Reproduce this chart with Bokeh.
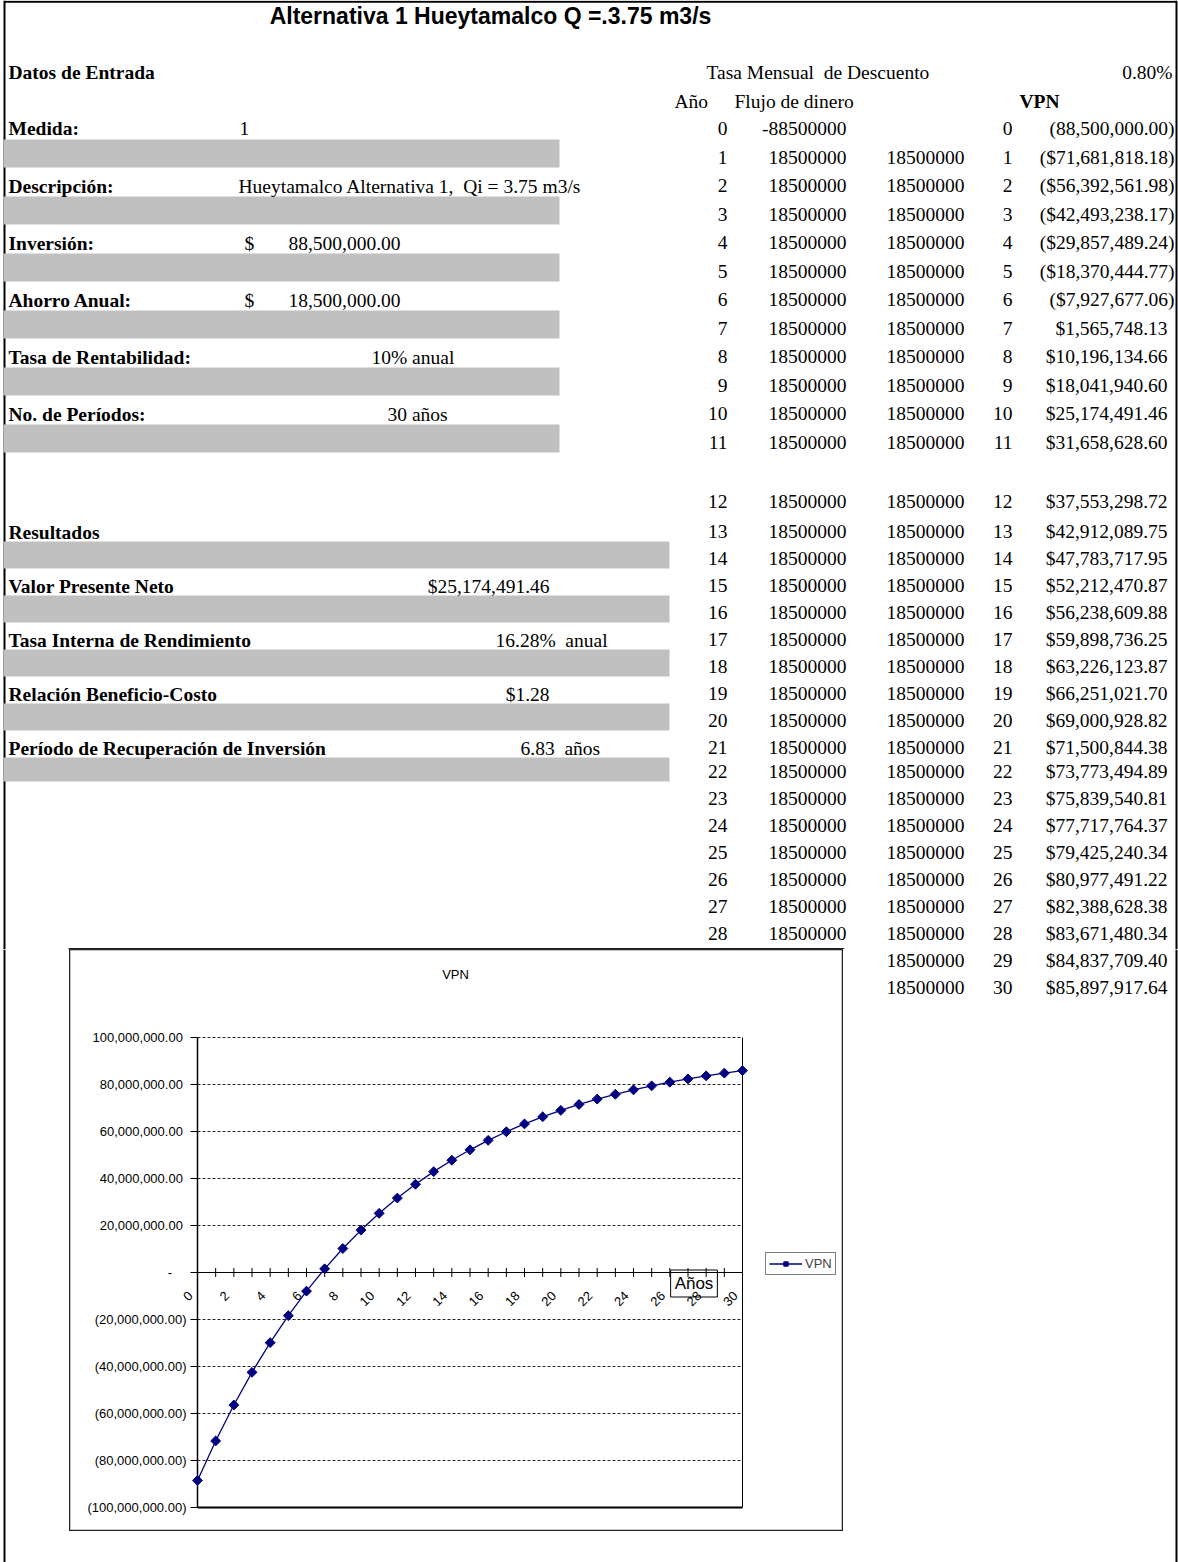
import numpy as np
from bokeh.plotting import figure
from bokeh.models import (Range1d, Label, LabelSet, Legend, LegendItem, ColumnDataSource)
from bokeh.layouts import column, row
from bokeh.core.properties import value
from bokeh.embed import file_html
from bokeh.resources import INLINE

# ---------------- data ----------------
title_text = "Alternativa 1 Hueytamalco Q =.3.75 m3/s"
medida = 1
descripcion = "Hueytamalco Alternativa 1,\u00a0 Qi = 3.75 m3/s"
inversion = 88500000.00
ahorro_anual = 18500000.00
tasa_rentabilidad = 10
periodos = 30
tasa_mensual = 0.80
vpn_total = 25174491.46
tir = 16.28
beneficio_costo = 1.28
recuperacion = 6.83

years = [0, 1, 2, 3, 4, 5, 6, 7, 8, 9, 10, 11, 12, 13, 14, 15, 16, 17, 18, 19, 20,
         21, 22, 23, 24, 25, 26, 27, 28, 29, 30]
flujo = [-88500000, 18500000, 18500000, 18500000, 18500000, 18500000, 18500000,
         18500000, 18500000, 18500000, 18500000, 18500000, 18500000, 18500000,
         18500000, 18500000, 18500000, 18500000, 18500000, 18500000, 18500000,
         18500000, 18500000, 18500000, 18500000, 18500000, 18500000, 18500000,
         18500000, 18500000, 18500000]
flujo_b = [None, 18500000, 18500000, 18500000, 18500000, 18500000, 18500000,
           18500000, 18500000, 18500000, 18500000, 18500000, 18500000, 18500000,
           18500000, 18500000, 18500000, 18500000, 18500000, 18500000, 18500000,
           18500000, 18500000, 18500000, 18500000, 18500000, 18500000, 18500000,
           18500000, 18500000, 18500000]
vpn = [-88500000.00, -71681818.18, -56392561.98, -42493238.17, -29857489.24,
       -18370444.77, -7927677.06, 1565748.13, 10196134.66, 18041940.60,
       25174491.46, 31658628.60, 37553298.72, 42912089.75, 47783717.95,
       52212470.87, 56238609.88, 59898736.25, 63226123.87, 66251021.70,
       69000928.82, 71500844.38, 73773494.89, 75839540.81, 77717764.37,
       79425240.34, 80977491.22, 82388628.38, 83671480.34, 84837709.40,
       85897917.64]

y_ticks = [-100000000, -80000000, -60000000, -40000000, -20000000, 0,
           20000000, 40000000, 60000000, 80000000, 100000000]
y_tick_labels = ["(100,000,000.00)", "(80,000,000.00)", "(60,000,000.00)",
                 "(40,000,000.00)", "(20,000,000.00)", "-", "20,000,000.00",
                 "40,000,000.00", "60,000,000.00", "80,000,000.00", "100,000,000.00"]
x_tick_years = [0, 2, 4, 6, 8, 10, 12, 14, 16, 18, 20, 22, 24, 26, 28, 30]

# ---------------- helpers ----------------
SERIF = "Liberation Serif"
SANS = "Liberation Sans"
FS = "19.5px"
NAVY = "#000080"
PAGE_W, PAGE_H = 1178, 1562


def sheet(w, h, x0, x1, y0, y1):
    f = figure(width=w, height=h, x_range=Range1d(x0, x1), y_range=Range1d(y1, y0),
               x_axis_location=None, y_axis_location=None, toolbar_location=None,
               tools="", output_backend="svg", title=None, min_border=0)
    f.grid.visible = False
    f.outline_line_color = None
    f.background_fill_color = "white"
    f.border_fill_color = "white"
    return f


def put(f, xs, ys, texts, align="left", bold=False, font=SERIF, size=FS):
    f.text(x=xs, y=ys, text=texts, text_align=align, text_baseline="middle",
           text_font=value(font), text_font_size=value(size),
           text_font_style="bold" if bold else "normal", text_color="black")


def row_y(i):
    if i <= 11:
        return 128 + 28.5 * i
    if i == 12:
        return 501
    if i <= 21:
        return 531 + 27 * (i - 13)
    return 771 + 27 * (i - 22)


def vpn_text(i, v):
    s = f"{abs(v):,.2f}"
    if i == 0:
        return f"({s})"
    return f"(${s})" if v < 0 else f"${s}"


# chart box / plot area placement on the page (pixels)
BOX_L, BOX_R, BOX_T, BOX_B = 69, 843, 949, 1531
PA_L, PA_R, PA_T, PA_B = 197, 742, 1037, 1507

# ---------------- top sheet ----------------
T = sheet(PAGE_W, BOX_T, 0, PAGE_W, 0, BOX_T)
T.segment(x0=[4, 4, 1176], y0=[1.2, 0, 0], x1=[1176, 4, 1176], y1=[1.2, BOX_T, BOX_T],
          line_color="black", line_width=2)
bars_l = [(139, 167), (196, 224), (253, 281), (310, 338), (367, 395), (424, 452)]
bars_r = [(541, 568), (595, 622), (649, 676), (703, 730), (757, 781)]
T.quad(left=[3] * len(bars_l), right=[559] * len(bars_l),
       top=[a for a, b in bars_l], bottom=[b for a, b in bars_l],
       fill_color="#C0C0C0", line_color=None)
T.quad(left=[3] * len(bars_r), right=[669] * len(bars_r),
       top=[a for a, b in bars_r], bottom=[b for a, b in bars_r],
       fill_color="#C0C0C0", line_color=None)
T.segment(x0=[BOX_L - 1], y0=[BOX_T - 0.7], x1=[BOX_R + 0.7], y1=[BOX_T - 0.7],
          line_color="#222222", line_width=1.5)

put(T, [490], [15], [title_text], align="center", bold=True, font=SANS, size="23px")

labels = [("Datos de Entrada", 72), ("Medida:", 128), ("Descripción:", 186),
          ("Inversión:", 243), ("Ahorro Anual:", 300), ("Tasa de Rentabilidad:", 357),
          ("No. de Períodos:", 414), ("Resultados", 532), ("Valor Presente Neto", 586),
          ("Tasa Interna de Rendimiento", 640), ("Relación Beneficio-Costo", 694),
          ("Período de Recuperación de Inversión", 748)]
put(T, [8] * len(labels), [y for _, y in labels], [t for t, _ in labels], bold=True)

left_vals = [(str(medida), 239, 128), (descripcion, 238, 186), ("$", 244, 243),
             ("$", 244, 300), (f"{tasa_rentabilidad}% anual", 371, 357),
             (f"{periodos} años", 387, 414), (f"{tir:.2f}%\u00a0 anual", 495, 640),
             (f"{recuperacion:.2f}\u00a0 años", 520, 748),
             ("Tasa Mensual\u00a0 de Descuento", 706, 72), ("Año", 674, 101),
             ("Flujo de dinero", 734, 101)]
put(T, [x for _, x, _ in left_vals], [y for _, _, y in left_vals], [t for t, _, _ in left_vals])
right_vals = [(f"{inversion:,.2f}", 400, 243), (f"{ahorro_anual:,.2f}", 400, 300),
              (f"${vpn_total:,.2f}", 549, 586), (f"${beneficio_costo:.2f}", 549, 694),
              (f"{tasa_mensual:.2f}%", 1172, 72)]
put(T, [x for _, x, _ in right_vals], [y for _, _, y in right_vals],
    [t for t, _, _ in right_vals], align="right")
put(T, [1039], [101], ["VPN"], align="center", bold=True)

rows_top = [i for i in years if i <= 28]
put(T, [727] * len(rows_top), [row_y(i) for i in rows_top], [str(i) for i in rows_top], align="right")
put(T, [846] * len(rows_top), [row_y(i) for i in rows_top], [str(flujo[i]) for i in rows_top], align="right")
r2 = [i for i in rows_top if flujo_b[i] is not None]
put(T, [964] * len(r2), [row_y(i) for i in r2], [str(flujo_b[i]) for i in r2], align="right")
put(T, [1012] * len(rows_top), [row_y(i) for i in rows_top], [str(i) for i in rows_top], align="right")
neg = [i for i in rows_top if vpn[i] < 0]
pos = [i for i in rows_top if vpn[i] >= 0]
put(T, [1174] * len(neg), [row_y(i) for i in neg], [vpn_text(i, vpn[i]) for i in neg], align="right")
put(T, [1167] * len(pos), [row_y(i) for i in pos], [vpn_text(i, vpn[i]) for i in pos], align="right")

# ---------------- bottom strips ----------------
BOT_H = PAGE_H - BOX_T
L = sheet(BOX_L, BOT_H, 0, BOX_L, BOX_T, PAGE_H)
L.segment(x0=[4], y0=[BOX_T], x1=[4], y1=[PAGE_H], line_color="black", line_width=2)

R = sheet(PAGE_W - BOX_R, BOT_H, BOX_R, PAGE_W, BOX_T, PAGE_H)
R.segment(x0=[1176], y0=[BOX_T], x1=[1176], y1=[PAGE_H], line_color="black", line_width=2)
rows_bot = [i for i in years if i > 28]
put(R, [964] * len(rows_bot), [row_y(i) for i in rows_bot], [str(flujo_b[i]) for i in rows_bot], align="right")
put(R, [1012] * len(rows_bot), [row_y(i) for i in rows_bot], [str(i) for i in rows_bot], align="right")
put(R, [1167] * len(rows_bot), [row_y(i) for i in rows_bot], [vpn_text(i, vpn[i]) for i in rows_bot], align="right")

B = sheet(BOX_R - BOX_L, PAGE_H - BOX_B, BOX_L, BOX_R, BOX_B, PAGE_H)

# ---------------- chart (frame = chart box) ----------------
x_per_px = (years[-1] - years[0]) / (PA_R - PA_L)
y_per_px = (y_ticks[-1] - y_ticks[0]) / (PA_B - PA_T)
x_lo = years[0] - (PA_L - BOX_L) * x_per_px
x_hi = years[-1] + (BOX_R - PA_R) * x_per_px
y_hi = y_ticks[-1] + (PA_T - BOX_T) * y_per_px
y_lo = y_ticks[0] - (BOX_B - PA_B) * y_per_px

C = figure(width=BOX_R - BOX_L, height=BOX_B - BOX_T, x_range=Range1d(x_lo, x_hi),
           y_range=Range1d(y_lo, y_hi), x_axis_location=None, y_axis_location=None,
           toolbar_location=None, tools="", output_backend="svg", title=None,
           min_border=0)
C.grid.visible = False
C.background_fill_color = "white"
C.border_fill_color = "white"
C.outline_line_color = "#222222"
C.outline_line_width = 1.5

x0, x1 = years[0], years[-1]
grid_vals = [t for t in y_ticks if t not in (0, y_ticks[0])]
C.segment(x0=[x0] * len(grid_vals), y0=grid_vals, x1=[x1] * len(grid_vals), y1=grid_vals,
          line_color="black", line_dash="3 2", line_width=1, line_alpha=0.85)
# plot-area edges
C.segment(x0=[x1], y0=[y_ticks[0]], x1=[x1], y1=[y_ticks[-1]], line_color="black", line_width=1)
C.segment(x0=[x0], y0=[y_ticks[0]], x1=[x1], y1=[y_ticks[0]], line_color="black", line_width=2)
# y axis
C.segment(x0=[x0], y0=[y_ticks[0]], x1=[x0], y1=[y_ticks[-1]], line_color="black", line_width=1.5)
C.ray(x=[x0] * len(y_ticks), y=y_ticks, length=7, length_units="screen", angle=np.pi,
      line_color="black", line_width=1)


def pad(s):
    if s.endswith(")"):
        return s
    if s == "-":
        return s + "\u00a0" * 4
    return s + "\u00a0"


C.text(x=[x0] * len(y_ticks), y=y_ticks, text=[pad(s) for s in y_tick_labels],
       text_align="right", text_baseline="middle", x_offset=-11,
       text_font=value(SANS), text_font_size=value("13px"), text_color="black")
# x axis at zero
C.segment(x0=[x0], y0=[0], x1=[x1], y1=[0], line_color="black", line_width=1)
C.scatter(x=years[1:], y=[0] * (len(years) - 1), marker="dash", angle=np.pi / 2, size=9,
          line_color="black", line_width=1)
src_x = ColumnDataSource(dict(x=x_tick_years, y=[0] * len(x_tick_years),
                              t=[str(v) for v in x_tick_years]))
C.add_layout(LabelSet(x="x", y="y", text="t", source=src_x, angle=np.pi / 4,
                      text_align="right", text_baseline="middle", x_offset=-7,
                      y_offset=-21, text_font=value(SANS),
                      text_font_size=value("13px"), text_color="black"))

line_r = C.line(x=years, y=vpn, line_color=NAVY, line_width=1.3)
mark_r = C.scatter(x=years, y=vpn, marker="square", angle=np.pi / 4, size=7,
                   fill_color=NAVY, line_color=NAVY)

C.add_layout(Label(x=(455 - PA_L) * x_per_px, y=(1272 - 974) * y_per_px,
                   text="VPN", text_align="center", text_baseline="middle",
                   text_font=SANS, text_font_size="13px", text_color="black"))
C.add_layout(Label(x=(693.5 - PA_L) * x_per_px, y=-(1283 - 1272) * y_per_px, text="Años",
                   text_align="center", text_baseline="middle", text_font=SANS,
                   text_font_size="17px", text_color="black", border_line_color="black",
                   border_line_width=1, padding=4))

legend = Legend(items=[LegendItem(label="VPN", renderers=[line_r, mark_r])],
                location=(765 - BOX_L, BOX_B - 1275), orientation="vertical", padding=3,
                margin=0, spacing=0, label_standoff=3, glyph_width=33, glyph_height=11,
                label_height=11, label_text_font=SANS, label_text_font_size="13px",
                border_line_color="black", border_line_width=1,
                background_fill_color="white", background_fill_alpha=1)
C.add_layout(legend)

layout = column(T, row(L, column(C, B), R))
open("out.html", "w").write(file_html(layout, INLINE))
